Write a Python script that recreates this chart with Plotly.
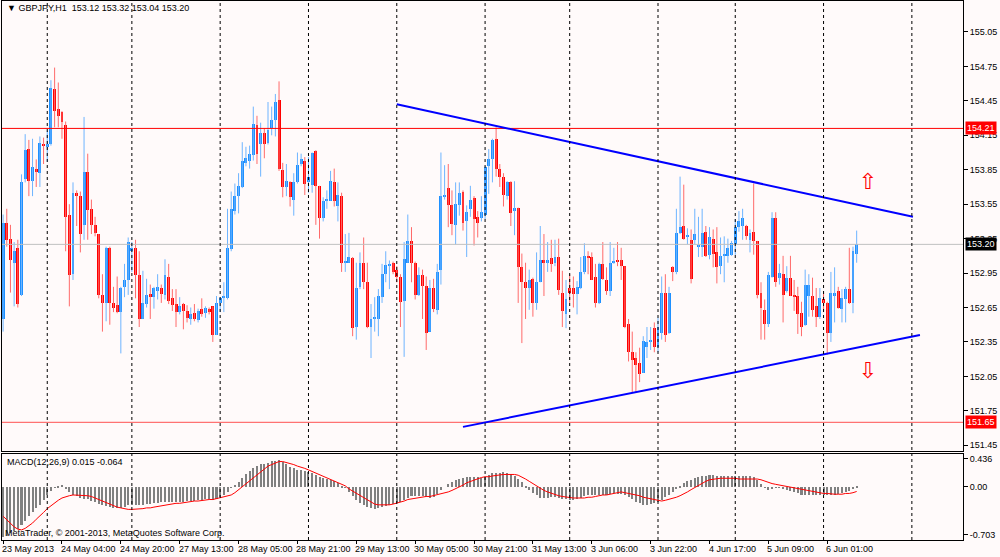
import numpy as np
import plotly.graph_objects as go

# GBPJPY H1, 23 May 2013 12:00 .. 6 Jun 2013 09:00 (one value per hourly bar)
day_names = ["23 May", "24 May", "27 May", "28 May", "29 May", "30 May",
             "31 May", "3 Jun", "4 Jun", "5 Jun", "6 Jun"]
day_hours = [list(range(12, 24)), list(range(0, 23)), list(range(24)), list(range(24)),
             list(range(24)), list(range(24)), list(range(0, 23)), list(range(24)),
             [0] + list(range(4, 24)), list(range(24)), list(range(0, 10))]

opens = [152.55, 153.39, 153.25, 153.04, 153.17, 152.76, 153.77, 154.03, 153.75, 153.86,
         153.82, 154.07, 154.05, 154.07, 154.55, 154.38, 154.35, 154.24, 153.46, 152.94,
         153.65, 153.62, 153.37, 153.83, 153.51, 153.37, 153.29, 152.76, 152.69, 153.17,
         152.69, 152.67, 152.61, 152.83, 152.89, 153.14, 153.17, 152.93, 152.55, 152.68,
         152.77, 152.74, 152.79, 152.82, 152.76, 152.92, 152.73, 152.68, 152.61, 152.68,
         152.62, 152.55, 152.60, 152.54, 152.64, 152.60, 152.64, 152.66, 152.41, 152.69,
         152.73, 152.73, 153.16, 153.49, 153.62, 153.70, 153.91, 153.93, 153.98, 154.24,
         154.07, 154.17, 154.08, 154.21, 154.28, 154.46, 153.85, 153.70, 153.74, 153.59,
         153.74, 153.90, 153.93, 153.74, 153.72, 154.01, 153.71, 153.43, 153.58, 153.58,
         153.74, 153.53, 153.62, 153.04, 153.04, 153.08, 152.48, 152.83, 153.04, 152.87,
         152.48, 152.55, 152.55, 152.74, 152.94, 153.01, 153.04, 152.98, 152.92, 152.71,
         153.04, 153.23, 153.04, 152.76, 152.93, 152.84, 152.44, 152.82, 152.63, 152.98,
         153.61, 153.69, 153.54, 153.37, 153.54, 153.66, 153.40, 153.51, 153.60, 153.44,
         153.43, 153.46, 153.88, 153.94, 154.12, 153.86, 153.79, 153.62, 153.74, 153.49,
         153.52, 153.00, 152.87, 152.82, 152.90, 152.69, 152.87, 153.06, 153.04, 153.08,
         153.04, 153.09, 152.78, 152.59, 152.82, 152.82, 152.77, 152.82, 152.96, 153.10,
         153.09, 152.92, 152.69, 153.03, 152.89, 152.79, 153.04, 153.06, 153.06, 153.01,
         152.51, 152.26, 152.21, 152.17, 152.08, 152.31, 152.35, 152.47, 152.31, 152.43,
         152.78, 152.43, 153.00, 152.96, 153.30, 153.36, 153.26, 153.24, 153.24, 153.18,
         153.18, 153.31, 153.11, 153.25, 153.13, 153.01, 153.10, 153.10, 153.11, 153.20,
         153.35, 153.36, 153.36, 153.24, 153.31, 153.23, 152.78, 152.63, 152.51, 152.92,
         153.43, 152.91, 152.94, 152.79, 152.91, 152.76, 152.75, 152.60, 152.50, 152.75,
         152.75, 152.66, 152.57, 152.72, 152.69, 152.43, 152.75, 152.79, 152.64, 152.72,
         152.81, 152.69, 153.12]
highs = [153.46, 153.51, 153.37, 153.22, 153.24, 153.81, 154.16, 154.11, 154.12, 153.94,
         154.14, 154.13, 154.19, 154.63, 154.74, 154.61, 154.36, 154.27, 153.55, 153.74,
         153.67, 153.66, 154.31, 153.99, 153.59, 153.44, 153.29, 152.94, 153.18, 153.18,
         152.83, 152.92, 152.83, 153.03, 153.26, 153.22, 153.24, 153.14, 152.97, 152.90,
         152.85, 152.83, 152.94, 152.85, 153.07, 153.03, 152.81, 152.81, 152.74, 152.69,
         152.67, 152.65, 152.68, 152.64, 152.73, 152.66, 152.65, 152.66, 152.75, 152.74,
         152.87, 153.51, 153.66, 153.73, 153.82, 154.09, 154.05, 154.06, 154.40, 154.32,
         154.26, 154.21, 154.44, 154.40, 154.51, 154.62, 153.91, 153.90, 153.75, 153.82,
         154.00, 153.99, 153.96, 153.96, 154.00, 154.02, 153.71, 153.61, 153.67, 153.84,
         153.86, 153.74, 153.65, 153.29, 153.30, 153.09, 153.04, 153.13, 153.26, 153.04,
         152.68, 152.74, 152.81, 153.03, 153.14, 153.06, 153.05, 153.01, 152.94, 153.22,
         153.46, 153.35, 153.05, 153.00, 152.98, 152.92, 152.89, 152.90, 153.03, 154.00,
         153.89, 153.90, 153.67, 153.74, 153.74, 153.67, 153.54, 153.71, 153.62, 153.49,
         153.62, 153.88, 154.03, 154.12, 154.22, 153.90, 153.82, 153.75, 153.75, 153.75,
         153.52, 153.12, 153.04, 152.98, 152.91, 153.13, 153.36, 153.29, 153.22, 153.24,
         153.24, 153.25, 152.97, 152.89, 152.94, 152.92, 152.88, 153.09, 153.21, 153.14,
         153.13, 153.03, 153.04, 153.22, 153.00, 153.22, 153.17, 153.22, 153.17, 153.01,
         152.55, 152.44, 152.26, 152.30, 152.40, 152.48, 152.48, 152.52, 152.56, 152.92,
         152.94, 152.83, 153.01, 153.51, 153.79, 153.72, 153.34, 153.33, 153.51, 153.44,
         153.51, 153.36, 153.35, 153.33, 153.35, 153.26, 153.27, 153.25, 153.23, 153.42,
         153.49, 153.51, 153.37, 153.33, 153.73, 153.23, 152.87, 152.72, 152.96, 153.48,
         153.48, 153.03, 153.10, 153.01, 153.10, 152.89, 152.83, 152.70, 152.98, 152.94,
         152.91, 152.82, 152.82, 152.78, 152.70, 152.96, 153.00, 152.83, 152.81, 152.83,
         153.17, 153.18, 153.32]
lows = [152.44, 153.18, 152.78, 152.66, 152.65, 152.75, 153.74, 153.62, 153.62, 153.70,
        153.70, 153.90, 153.92, 154.06, 154.22, 154.22, 154.12, 153.14, 152.66, 152.89,
        153.36, 153.13, 153.24, 153.24, 153.29, 153.27, 152.73, 152.44, 152.53, 152.50,
        152.61, 152.60, 152.25, 152.74, 152.76, 152.96, 152.73, 152.48, 152.55, 152.65,
        152.55, 152.64, 152.72, 152.69, 152.72, 152.68, 152.62, 152.48, 152.59, 152.46,
        152.52, 152.50, 152.53, 152.52, 152.57, 152.56, 152.59, 152.35, 152.41, 152.61,
        152.61, 152.72, 153.14, 153.46, 153.47, 153.69, 153.88, 153.86, 153.93, 153.90,
        153.79, 153.95, 154.07, 154.15, 154.14, 153.84, 153.61, 153.62, 153.53, 153.45,
        153.73, 153.88, 153.63, 153.65, 153.65, 153.37, 153.25, 153.40, 153.51, 153.58,
        153.53, 153.40, 152.96, 152.96, 153.04, 152.40, 152.37, 152.81, 152.81, 152.47,
        152.21, 152.44, 152.40, 152.69, 152.87, 152.81, 152.94, 152.87, 152.48, 152.22,
        153.04, 152.87, 152.72, 152.75, 152.55, 152.28, 152.44, 152.61, 152.59, 152.85,
        153.59, 153.35, 153.28, 153.20, 153.45, 153.32, 153.09, 153.44, 153.19, 153.26,
        153.40, 153.42, 153.64, 153.74, 153.79, 153.70, 153.53, 153.59, 153.36, 153.28,
        152.69, 152.34, 152.55, 152.63, 152.57, 152.63, 152.87, 152.75, 152.96, 152.96,
        153.01, 152.76, 152.48, 152.47, 152.69, 152.65, 152.59, 152.81, 152.94, 152.94,
        152.89, 152.65, 152.68, 152.89, 152.76, 152.75, 153.03, 153.01, 152.89, 152.47,
        152.18, 151.91, 151.91, 152.00, 152.08, 152.21, 152.28, 152.26, 152.26, 152.37,
        152.35, 152.42, 152.88, 152.94, 153.29, 153.24, 153.20, 152.86, 153.20, 153.09,
        153.09, 153.09, 153.07, 153.00, 152.86, 152.94, 152.87, 153.04, 153.10, 153.11,
        153.31, 153.24, 153.24, 153.13, 153.11, 152.73, 152.37, 152.37, 152.48, 152.91,
        152.83, 152.85, 152.52, 152.78, 152.75, 152.62, 152.42, 152.40, 152.49, 152.57,
        152.57, 152.48, 152.55, 152.61, 152.24, 152.35, 152.52, 152.64, 152.52, 152.52,
        152.68, 152.60, 153.04]
closes = [153.39, 153.24, 153.06, 153.14, 152.68, 153.74, 154.02, 153.75, 153.87, 153.83,
          154.08, 154.06, 154.07, 154.56, 154.36, 154.32, 154.27, 153.44, 152.93, 153.65,
          153.62, 153.29, 153.83, 153.50, 153.37, 153.30, 152.76, 152.69, 153.17, 152.69,
          152.65, 152.61, 152.82, 152.89, 153.22, 153.17, 152.93, 152.55, 152.69, 152.76,
          152.74, 152.82, 152.83, 152.77, 152.93, 152.71, 152.67, 152.61, 152.66, 152.62,
          152.56, 152.59, 152.55, 152.62, 152.59, 152.65, 152.61, 152.41, 152.69, 152.73,
          152.75, 153.17, 153.51, 153.62, 153.71, 153.93, 153.95, 153.99, 154.25, 153.99,
          154.17, 154.07, 154.20, 154.28, 154.44, 153.86, 153.70, 153.75, 153.61, 153.74,
          153.89, 153.94, 153.73, 153.79, 154.00, 153.71, 153.43, 153.58, 153.59, 153.75,
          153.58, 153.63, 153.04, 153.05, 153.09, 152.47, 152.82, 153.04, 152.87, 152.48,
          152.55, 152.56, 152.75, 152.94, 153.02, 153.03, 152.96, 152.92, 152.70, 153.07,
          153.23, 153.04, 152.76, 152.93, 152.84, 152.43, 152.82, 152.64, 152.96, 153.62,
          153.63, 153.54, 153.38, 153.55, 153.65, 153.39, 153.48, 153.59, 153.42, 153.39,
          153.48, 153.87, 153.94, 154.11, 153.86, 153.79, 153.63, 153.74, 153.47, 153.52,
          153.00, 152.87, 152.82, 152.89, 152.69, 152.87, 153.06, 153.04, 153.06, 153.03,
          153.09, 152.80, 152.62, 152.72, 152.78, 152.77, 152.83, 152.96, 153.10, 153.08,
          152.89, 152.69, 153.03, 152.90, 152.79, 153.04, 153.05, 153.05, 153.01, 152.48,
          152.26, 152.19, 152.15, 152.07, 152.36, 152.35, 152.37, 152.31, 152.48, 152.78,
          152.41, 152.78, 152.96, 153.30, 153.35, 153.25, 153.28, 152.90, 153.29, 153.18,
          153.30, 153.10, 153.26, 153.12, 153.00, 153.10, 153.11, 153.17, 153.21, 153.35,
          153.40, 153.43, 153.27, 153.30, 153.23, 152.76, 152.65, 152.51, 152.93, 153.43,
          152.87, 152.95, 152.76, 152.91, 152.75, 152.74, 152.59, 152.48, 152.85, 152.85,
          152.63, 152.57, 152.73, 152.69, 152.43, 152.78, 152.78, 152.65, 152.73, 152.81,
          152.69, 153.14, 153.20]

macd_main = [-0.66, -0.64, -0.61, -0.58, -0.55, -0.50, -0.44, -0.38, -0.33, -0.28,
             -0.23, -0.17, -0.11, -0.05, -0.01, 0.02, 0.03, -0.02, -0.07, -0.10,
             -0.12, -0.14, -0.15, -0.16, -0.18, -0.20, -0.22, -0.24, -0.25, -0.26,
             -0.27, -0.28, -0.28, -0.26, -0.24, -0.23, -0.24, -0.24, -0.23, -0.22,
             -0.22, -0.21, -0.21, -0.20, -0.20, -0.20, -0.20, -0.19, -0.19, -0.19,
             -0.18, -0.18, -0.18, -0.17, -0.17, -0.16, -0.16, -0.17, -0.15, -0.13,
             -0.10, -0.06, -0.01, 0.03, 0.07, 0.12, 0.17, 0.21, 0.25, 0.28,
             0.30, 0.31, 0.32, 0.34, 0.35, 0.36, 0.33, 0.30, 0.27, 0.25,
             0.23, 0.22, 0.21, 0.20, 0.19, 0.16, 0.13, 0.12, 0.11, 0.10,
             0.08, 0.05, 0.02, -0.01, -0.06, -0.12, -0.17, -0.21, -0.24, -0.26,
             -0.28, -0.29, -0.28, -0.26, -0.25, -0.23, -0.22, -0.21, -0.19, -0.17,
             -0.14, -0.12, -0.12, -0.12, -0.12, -0.13, -0.14, -0.13, -0.09, -0.04,
             0.00, 0.04, 0.07, 0.09, 0.11, 0.12, 0.13, 0.13, 0.13, 0.13,
             0.12, 0.13, 0.16, 0.18, 0.19, 0.19, 0.20, 0.19, 0.17, 0.15,
             0.11, 0.07, 0.01, -0.04, -0.08, -0.11, -0.14, -0.14, -0.14, -0.13,
             -0.13, -0.14, -0.15, -0.16, -0.17, -0.17, -0.16, -0.14, -0.12, -0.11,
             -0.11, -0.11, -0.11, -0.11, -0.10, -0.09, -0.08, -0.09, -0.09, -0.11,
             -0.13, -0.16, -0.19, -0.21, -0.23, -0.23, -0.22, -0.21, -0.19, -0.17,
             -0.13, -0.10, -0.07, -0.03, 0.01, 0.05, 0.08, 0.10, 0.12, 0.13,
             0.14, 0.15, 0.16, 0.16, 0.15, 0.15, 0.15, 0.14, 0.14, 0.14,
             0.14, 0.14, 0.14, 0.14, 0.13, 0.10, 0.04, -0.01, -0.04, -0.03,
             -0.01, -0.01, -0.03, -0.04, -0.05, -0.06, -0.08, -0.10, -0.10, -0.10,
             -0.10, -0.11, -0.11, -0.11, -0.11, -0.10, -0.10, -0.09, -0.08, -0.07,
             -0.05, -0.03, 0.015]
macd_signal = [-0.39, -0.44, -0.49, -0.53, -0.56, -0.57, -0.55, -0.52, -0.48, -0.43,
               -0.39, -0.34, -0.29, -0.25, -0.21, -0.18, -0.15, -0.13, -0.12, -0.11,
               -0.11, -0.11, -0.11, -0.12, -0.13, -0.15, -0.18, -0.20, -0.22, -0.24,
               -0.25, -0.27, -0.28, -0.29, -0.30, -0.30, -0.30, -0.29, -0.29, -0.28,
               -0.28, -0.27, -0.26, -0.25, -0.25, -0.24, -0.23, -0.22, -0.22, -0.21,
               -0.21, -0.20, -0.19, -0.19, -0.18, -0.18, -0.17, -0.17, -0.16, -0.15,
               -0.14, -0.13, -0.11, -0.08, -0.04, 0.00, 0.04, 0.08, 0.12, 0.16,
               0.20, 0.24, 0.27, 0.29, 0.31, 0.33, 0.33, 0.32, 0.30, 0.29,
               0.27, 0.26, 0.24, 0.22, 0.20, 0.18, 0.15, 0.13, 0.12, 0.10,
               0.08, 0.06, 0.04, 0.01, -0.03, -0.06, -0.09, -0.12, -0.15, -0.18,
               -0.21, -0.23, -0.24, -0.24, -0.24, -0.24, -0.23, -0.22, -0.21, -0.19,
               -0.17, -0.16, -0.15, -0.14, -0.14, -0.13, -0.13, -0.12, -0.11, -0.09,
               -0.08, -0.07, -0.05, -0.03, -0.01, 0.02, 0.05, 0.07, 0.09, 0.11,
               0.12, 0.13, 0.13, 0.14, 0.15, 0.15, 0.16, 0.16, 0.16, 0.16,
               0.15, 0.13, 0.10, 0.07, 0.04, 0.00, -0.03, -0.05, -0.07, -0.09,
               -0.11, -0.12, -0.13, -0.14, -0.15, -0.15, -0.15, -0.15, -0.15, -0.14,
               -0.14, -0.13, -0.12, -0.11, -0.11, -0.10, -0.09, -0.08, -0.07, -0.08,
               -0.09, -0.09, -0.11, -0.12, -0.14, -0.15, -0.17, -0.18, -0.19, -0.19,
               -0.18, -0.17, -0.16, -0.14, -0.12, -0.10, -0.07, -0.04, -0.01, 0.02,
               0.04, 0.07, 0.09, 0.10, 0.11, 0.11, 0.11, 0.11, 0.11, 0.11,
               0.10, 0.10, 0.10, 0.10, 0.10, 0.10, 0.09, 0.07, 0.05, 0.04,
               0.03, 0.02, 0.01, 0.00, -0.01, -0.02, -0.03, -0.04, -0.05, -0.06,
               -0.07, -0.08, -0.08, -0.09, -0.09, -0.10, -0.10, -0.10, -0.10, -0.09,
               -0.09, -0.08, -0.064]

price_ticks = [151.45, 151.75, 152.05, 152.35, 152.65, 152.95, 153.25, 153.55,
               153.85, 154.15, 154.45, 154.75, 155.05]
macd_max, macd_min = 0.436, -0.703

# hand drawn objects (bar index, price)
upper_trend_x, upper_trend_y = [107, 247.3], [154.42, 153.44]
lower_trend_x, lower_trend_y = [125, 249.2], [151.61, 152.41]
level_high, level_low, bid = 154.21, 151.65, 153.20
arrow_x, arrow_up_y, arrow_down_y = 235, 153.73, 152.08

# ---- time axis
labels_full = []
day_start = []
for d, hrs in zip(day_names, day_hours):
    day_start.append(len(labels_full))
    for h in hrs:
        labels_full.append(f"{d} {h:02d}:00")
labels_full[0] = "23 May 2013"
n = len(opens)
idx = np.arange(n)
separators = day_start[1:] + [day_start[-1] + 24]
label_bars = list(range(0, n, 16))

o, h, l, c = map(np.array, (opens, highs, lows, closes))
up = c >= o

BG = "#FFFAFA"
BLUE, RED = "#1E90FF", "#FF0000"
FONT = "Liberation Sans"

fig = go.Figure()

def wicks(mask):
    xs, ys = [], []
    for i in idx[mask]:
        xs += [i, i, None]
        ys += [l[i], h[i], None]
    return xs, ys

for mask, col, wcol in [(up, BLUE, "#6EB4FF"), (~up, RED, "#FF6A6A")]:
    wx, wy = wicks(mask)
    fig.add_trace(go.Scatter(x=wx, y=wy, mode="lines", line=dict(color=wcol, width=1),
                             hoverinfo="skip", xaxis="x", yaxis="y"))
    fig.add_trace(go.Bar(x=idx[mask], base=np.minimum(o, c)[mask],
                         y=np.maximum(np.abs(c - o), 0.012)[mask], width=0.8,
                         marker=dict(color=col, line=dict(width=0)), xaxis="x", yaxis="y"))

# horizontal levels
for lv, col in [(level_high, RED), (level_low, "#FF5050"), (bid, "#C0C0C0")]:
    fig.add_trace(go.Scatter(x=[-0.3, 260.9], y=[lv, lv], mode="lines",
                             line=dict(color=col, width=1), xaxis="x", yaxis="y"))

# trend lines
for tx, ty in [(upper_trend_x, upper_trend_y), (lower_trend_x, lower_trend_y)]:
    fig.add_trace(go.Scatter(x=tx, y=ty, mode="lines", line=dict(color="#0000FF", width=2),
                             xaxis="x", yaxis="y"))

fig.add_trace(go.Scatter(x=[arrow_x, arrow_x], y=[arrow_up_y, arrow_down_y], mode="text",
                         text=["\u21e7", "\u21e9"],
                         textfont=dict(color=RED, size=22, family="DejaVu Sans"),
                         xaxis="x", yaxis="y"))

# MACD panel
fig.add_trace(go.Bar(x=idx, y=macd_main, width=0.55, marker=dict(color="#808080", line=dict(width=0)),
                     xaxis="x2", yaxis="y2"))
fig.add_trace(go.Scatter(x=idx, y=macd_signal, mode="lines", line=dict(color=RED, width=1),
                         xaxis="x2", yaxis="y2"))

H = 557.0
def py(px):
    return 1 - px / H

xdom = [0.002, 0.963]
axis_common = dict(showline=True, mirror=True, linecolor="black", linewidth=1,
                   showgrid=False, zeroline=False)

shapes = [dict(type="line", xref="x", yref="paper", x0=s, x1=s, y0=py(540), y1=py(1),
               line=dict(color="black", width=1, dash="3px,3px")) for s in separators]

annotations = [
    dict(text="\u25bc GBPJPY,H1  153.12 153.32 153.04 153.20", x=0.005, y=py(8),
         xref="paper", yref="paper", xanchor="left", yanchor="middle", showarrow=False,
         font=dict(size=9, color="black", family=FONT)),
    dict(text="MACD(12,26,9) 0.015 -0.064", x=0.005, y=py(462), xref="paper", yref="paper",
         xanchor="left", yanchor="middle", showarrow=False, font=dict(size=9, color="black", family=FONT)),
    dict(text="MetaTrader, \u00a9 2001-2013, MetaQuotes Software Corp.", x=0.003, y=py(533),
         xref="paper", yref="paper", xanchor="left", yanchor="middle", showarrow=False,
         font=dict(size=9, color="black", family=FONT)),
]
for b in label_bars:
    annotations.append(dict(text=labels_full[b], x=b, y=py(549), xref="x2", yref="paper",
                            xanchor="left", yanchor="middle", showarrow=False, xshift=-3,
                            font=dict(size=9, color="black", family=FONT)))
for val, bg in [(level_high, RED), (level_low, RED), (bid, "black")]:
    annotations.append(dict(text=f"{val:.2f}", x=0.9645, y=val, xref="paper", yref="y",
                            xanchor="left", yanchor="middle", showarrow=False, bgcolor=bg,
                            borderpad=1, font=dict(size=9, color="white", family=FONT)))

fig.update_layout(
    width=1000, height=557, margin=dict(l=0, r=0, t=0, b=0),
    paper_bgcolor=BG, plot_bgcolor=BG, showlegend=False, hovermode=False,
    barmode="overlay", bargap=0,
    font=dict(family=FONT, size=9, color="black"),
    xaxis=dict(domain=xdom, range=[-0.3, 260.9], anchor="y", showticklabels=False,
               ticks="", **axis_common),
    yaxis=dict(domain=[py(451), py(1)], range=[151.40, 155.32], anchor="x", side="right",
               tickvals=price_ticks, ticktext=[f"{t:.2f}" for t in price_ticks],
               ticks="outside", ticklen=4, tickcolor="black", automargin=False, **axis_common),
    xaxis2=dict(domain=xdom, range=[-0.3, 260.9], anchor="y2", showticklabels=False,
                tickvals=label_bars, ticks="outside", ticklen=3, tickcolor="black", **axis_common),
    yaxis2=dict(domain=[py(540), py(453.5)], range=[macd_min, macd_max], anchor="x2",
                side="right", tickvals=[macd_max - 0.07, 0, macd_min + 0.07],
                ticktext=[f"{macd_max:.3f}", "0.00", f"{macd_min:.3f}"],
                ticks="outside", ticklen=4, tickcolor="black", automargin=False, **axis_common),
    shapes=shapes, annotations=annotations,
)

fig.write_html("out.html", config={"displayModeBar": False},
               post_script="document.body.style.margin='0px';")
